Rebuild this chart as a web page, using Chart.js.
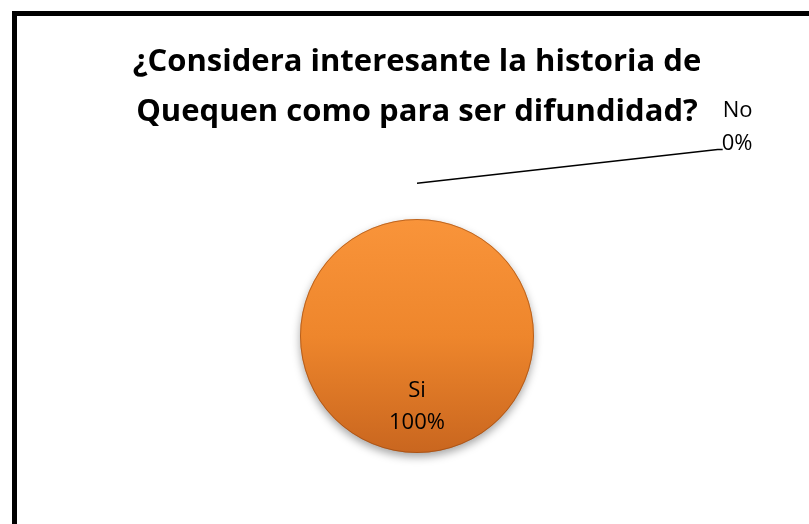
<!DOCTYPE html>
<html>
<head>
<meta charset="utf-8">
<script src="https://cdn.jsdelivr.net/npm/chart.js@4.4.0/dist/chart.umd.min.js"></script>
<style>
  html, body { margin: 0; padding: 0; background: #fff; overflow: hidden; }
  #wrap { position: relative; width: 809px; height: 524px; }
  #frame { position: absolute; left: 12px; top: 11px; width: 820px; height: 540px; border: 5px solid #000; pointer-events: none; }
  canvas { position: absolute; left: 0; top: 0; }
</style>
</head>
<body>
<div id="wrap">
  <canvas id="pie" width="809" height="524"></canvas>
  <div id="frame"></div>
</div>
<script>
// data
const categories = ["Si", "No"];
const values = [100, 0];
const titleLines = ["¿Considera interesante la historia de", "Quequen como para ser difundidad?"];

const font = "'Open Sans', Lato, sans-serif";

// orange gradient top to bottom
function orangeFill(c) {
  const chart = c.chart;
  const area = chart.chartArea;
  if (!area) return "#F0872E";
  const g = chart.ctx.createLinearGradient(0, area.top, 0, area.bottom);
  g.addColorStop(0, "#F9943A");
  g.addColorStop(0.5, "#EE862C");
  g.addColorStop(1, "#C9661F");
  return g;
}

// drop shadow under the pie
const shadowPlugin = {
  id: "shadow",
  beforeDatasetDraw(chart) {
    const ctx = chart.ctx;
    ctx.save();
    ctx.shadowColor = "rgba(0,0,0,0.35)";
    ctx.shadowBlur = 8;
    ctx.shadowOffsetY = 4;
  },
  afterDatasetDraw(chart) {
    chart.ctx.restore();
  }
};

// slice labels, the empty "No" slice gets a leader line
const labelPlugin = {
  id: "sliceLabels",
  afterDatasetsDraw(chart) {
    const ctx = chart.ctx;
    const arcs = chart.getDatasetMeta(0).data;
    ctx.save();
    // thin darker rim
    const a0 = arcs[0].getProps(["x", "y", "outerRadius"], true);
    ctx.beginPath();
    ctx.arc(a0.x, a0.y, a0.outerRadius - 0.5, 0, Math.PI * 2);
    ctx.strokeStyle = "rgba(150,70,15,0.6)";
    ctx.lineWidth = 1;
    ctx.stroke();

    ctx.font = "22px " + font;
    ctx.fillStyle = "#000";
    ctx.textBaseline = "alphabetic";
    arcs.forEach((arc, i) => {
      const { x, y, outerRadius: r } = arc.getProps(["x", "y", "outerRadius"], true);
      const pct = values[i] + "%";
      if (values[i] > 0) {
        ctx.textAlign = "center";
        ctx.fillText(categories[i], x, y + r * 0.52);
        ctx.fillText(pct, x, y + r * 0.795);
      } else {
        const sx = x, sy = y - r * 1.305;
        const ex = x + r * 2.57, ey = y - r * 1.595;
        ctx.beginPath();
        ctx.strokeStyle = "#000";
        ctx.lineWidth = 1.5;
        ctx.moveTo(sx, sy);
        ctx.lineTo(ex, ey);
        ctx.lineTo(ex + 5, ey);
        ctx.stroke();
        ctx.textAlign = "left";
        ctx.fillText(categories[i], ex + 5, ey - 32);
        ctx.fillText(pct, ex + 4, ey + 1);
      }
    });
    ctx.restore();
  }
};

new Chart(document.getElementById("pie"), {
  type: "pie",
  data: {
    labels: categories,
    datasets: [{
      data: values,
      backgroundColor: orangeFill,
      borderWidth: 0
    }]
  },
  options: {
    responsive: false,
    animation: false,
    layout: { padding: { left: 25, top: 0, right: 0, bottom: 71 } },
    plugins: {
      legend: { display: false },
      tooltip: { enabled: false },
      title: {
        display: true,
        text: titleLines,
        color: "#000",
        font: { family: font, size: 31, weight: "bold", lineHeight: 1.613 },
        padding: { top: 37, bottom: 82 }
      }
    }
  },
  plugins: [shadowPlugin, labelPlugin]
});
</script>
</body>
</html>
